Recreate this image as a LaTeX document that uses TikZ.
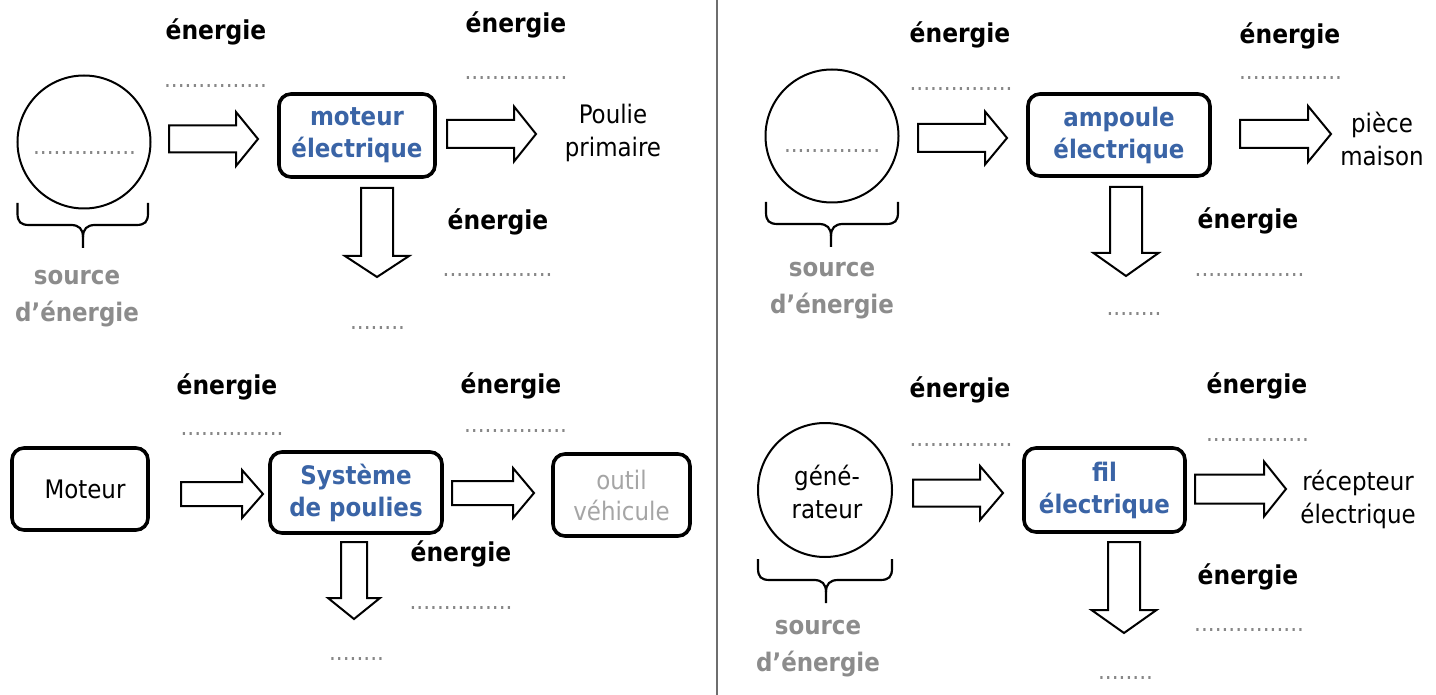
\documentclass[tikz,border=0pt]{standalone}
\usepackage{fontspec}
\setmainfont{DejaVu Sans Condensed}
\usetikzlibrary{calc}
\definecolor{unitblue}{RGB}{58,100,166}
\definecolor{srcgray}{RGB}{140,140,140}
\definecolor{dotgray}{RGB}{135,135,135}
\definecolor{palegray}{RGB}{165,165,165}
\definecolor{rulegray}{RGB}{110,110,110}

\tikzset{
  txt/.style={font=\fontsize{25.5}{33}\selectfont, align=center, inner sep=0pt},
  energy/.style={font=\fontsize{26}{33}\selectfont\bfseries, inner sep=0pt},
  dotline/.style={font=\fontsize{24}{24}\selectfont, text=dotgray, inner sep=0pt},
  srclabel/.style={font=\fontsize{25.5}{37}\selectfont\bfseries, text=srcgray, align=center, inner sep=0pt},
  unit/.style={draw, line width=3.6pt, rounded corners=12pt, align=center,
    text=unitblue, font=\fontsize{25.5}{32}\selectfont\bfseries, inner sep=0pt},
  plainbox/.style={draw, line width=3.6pt, rounded corners=12pt, align=center,
    font=\fontsize{25.5}{31}\selectfont, inner sep=0pt},
  source/.style={draw, circle, line width=2pt, inner sep=0pt},
  barrow/.style={draw, line width=2pt, fill=white, line join=miter},
  bracestyle/.style={draw, line width=2.2pt}
}

% horizontal block arrow: #1 tail, #2 tip, #3 shaft half width, #4 head half width, #5 head length
\newcommand\hblock[5]{%
  \draw[barrow] let \p1=(#1), \p2=(#2) in
    (\x1,\y1+#3) -- (\x2-#5,\y1+#3) -- (\x2-#5,\y1+#4) -- (\x2,\y1)
    -- (\x2-#5,\y1-#4) -- (\x2-#5,\y1-#3) -- (\x1,\y1-#3) -- cycle;}
% downward block arrow: same arguments
\newcommand\vblock[5]{%
  \draw[barrow] let \p1=(#1), \p2=(#2) in
    (\x1-#3,\y1) -- (\x1-#3,\y2+#5) -- (\x1-#4,\y2+#5) -- (\x1,\y2)
    -- (\x1+#4,\y2+#5) -- (\x1+#3,\y2+#5) -- (\x1+#3,\y1) -- cycle;}
% curly brace under a source: #1 left x, #2 right x, #3 top y, #4 arm y, #5 tip y, #6 middle x
\newcommand\srcbrace[6]{%
  \draw[bracestyle] (#1,#3) -- (#1,#4-12) .. controls (#1,#4-3) and (#1+3,#4) .. (#1+12,#4)
    -- (#6-12,#4) .. controls (#6-4,#4) and (#6,#4+4) .. (#6,#4+12) -- (#6,#5);
  \draw[bracestyle] (#2,#3) -- (#2,#4-12) .. controls (#2,#4-3) and (#2-3,#4) .. (#2-12,#4)
    -- (#6+12,#4) .. controls (#6+4,#4) and (#6,#4+4) .. (#6,#4+12);}

\begin{document}
\begin{tikzpicture}[x=1pt,y=-1pt]
\useasboundingbox (0,0) rectangle (1436,695);
\fill[white] (0,0) rectangle (1436,695);

% separator between the two halves
\draw[rulegray, line width=1.5pt] (717,0) -- (717,695);

%%%%%%%% top left: electric motor
\node[source, minimum size=133pt] (src1) at (84,142) {};
\node[dotline] (src1dots) at (84.5,153) {...............};
\srcbrace{17.5}{148}{203}{225}{248}{83}
\node[srclabel] (src1lbl) at (77,299) {source\\d’énergie};

\node[unit, minimum width=156pt, minimum height=83pt] (motor) at (357,135.5) {moteur\\électrique};
\node[txt] (pulley) at (613,133) {Poulie\\primaire};

\node[energy] (e11) at (216,32) {énergie};
\node[dotline] (d11) at (215.5,86) {...............};
\node[energy] (e12) at (516,25) {énergie};
\node[dotline] (d12) at (516,78) {...............};
\node[energy] (e13) at (498,222) {énergie};
\node[dotline] (d13) at (497.5,275) {................};
\node[dotline] (d14) at (377.5,328) {........};

\coordinate (a11t) at (169,139); \coordinate (a11h) at (258,139);
\hblock{a11t}{a11h}{13.5}{27}{22}
\coordinate (a12t) at (447,134); \coordinate (a12h) at (536,134);
\hblock{a12t}{a12h}{14}{27.5}{22}
\coordinate (a13t) at (377,188); \coordinate (a13h) at (377,277);
\vblock{a13t}{a13h}{16}{32}{21}

%%%%%%%% bottom left: pulley system
\node[plainbox, minimum width=136pt, minimum height=82pt] (engine) at (80,489) {\hspace*{10pt}Moteur};
\node[unit, minimum width=172pt, minimum height=81pt] (pulleys) at (356,492.5) {Système\\de poulies};
\node[plainbox, minimum width=137pt, minimum height=82pt, text=palegray] (tool) at (621.5,495) {outil\\véhicule};

\node[energy] (e21) at (227,387) {énergie};
\node[dotline] (d21) at (232,434) {...............};
\node[energy] (e22) at (511,386) {énergie};
\node[dotline] (d22) at (515.5,431) {...............};
\node[energy] (e23) at (461,554) {énergie};
\node[dotline] (d23) at (461,608) {...............};
\node[dotline] (d24) at (356.5,659) {........};

\coordinate (a21t) at (181,494); \coordinate (a21h) at (263,494);
\hblock{a21t}{a21h}{12}{24}{21}
\coordinate (a22t) at (452,493); \coordinate (a22h) at (534,493);
\hblock{a22t}{a22h}{12}{25}{21}
\coordinate (a23t) at (354,542); \coordinate (a23h) at (354,619);
\vblock{a23t}{a23h}{13}{26}{21}

%%%%%%%% top right: light bulb
\node[source, minimum size=133pt] (src3) at (832,136) {};
\node[dotline] (src3dots) at (832,151) {..............};
\srcbrace{766}{898}{202}{224}{247}{831}
\node[srclabel] (src3lbl) at (832,290.5) {source\\d’énergie};

\node[unit, minimum width=182pt, minimum height=82pt] (bulb) at (1119,135) {ampoule\\électrique};
\node[txt] (room) at (1382,138.5) {pièce\\maison};

\node[energy] (e31) at (960,35) {énergie};
\node[dotline] (d31) at (961,89) {...............};
\node[energy] (e32) at (1290,36) {énergie};
\node[dotline] (d32) at (1290.5,78) {...............};
\node[energy] (e33) at (1248,221) {énergie};
\node[dotline] (d33) at (1249.5,275) {................};
\node[dotline] (d34) at (1134,314) {........};

\coordinate (a31t) at (918,138); \coordinate (a31h) at (1007,138);
\hblock{a31t}{a31h}{14}{26.5}{22}
\coordinate (a32t) at (1240,134); \coordinate (a32h) at (1331,134);
\hblock{a32t}{a32h}{14}{28}{23}
\coordinate (a33t) at (1126,187); \coordinate (a33h) at (1126,276);
\vblock{a33t}{a33h}{16}{32.5}{23}

%%%%%%%% bottom right: electric wire
\node[source, minimum size=134pt] (gen) at (825,490) {};
\node[txt] (gentxt) at (827,491.5) {géné-\\rateur};
\srcbrace{758}{892}{559}{580}{603}{826}
\node[srclabel] (src4lbl) at (818,649) {source\\d’énergie};

\node[unit, minimum width=161pt, minimum height=84pt] (wire) at (1104.5,490) {fil\\électrique};
\node[txt] (receiver) at (1358,499) {récepteur\\électrique};

\node[energy] (e41) at (960,390) {énergie};
\node[dotline] (d41) at (961,445) {...............};
\node[energy] (e42) at (1257,386) {énergie};
\node[dotline] (d42) at (1257.5,440) {...............};
\node[energy] (e43) at (1248,577) {énergie};
\node[dotline] (d43) at (1249,630) {................};
\node[dotline] (d44) at (1125.5,678) {........};

\coordinate (a41t) at (913,493); \coordinate (a41h) at (1003,493);
\hblock{a41t}{a41h}{13.5}{27}{23}
\coordinate (a42t) at (1195,489); \coordinate (a42h) at (1286,489);
\hblock{a42t}{a42h}{14.5}{27.5}{22}
\coordinate (a43t) at (1124,542); \coordinate (a43h) at (1124,633);
\vblock{a43t}{a43h}{16}{32.5}{23}
\end{tikzpicture}
\end{document}
